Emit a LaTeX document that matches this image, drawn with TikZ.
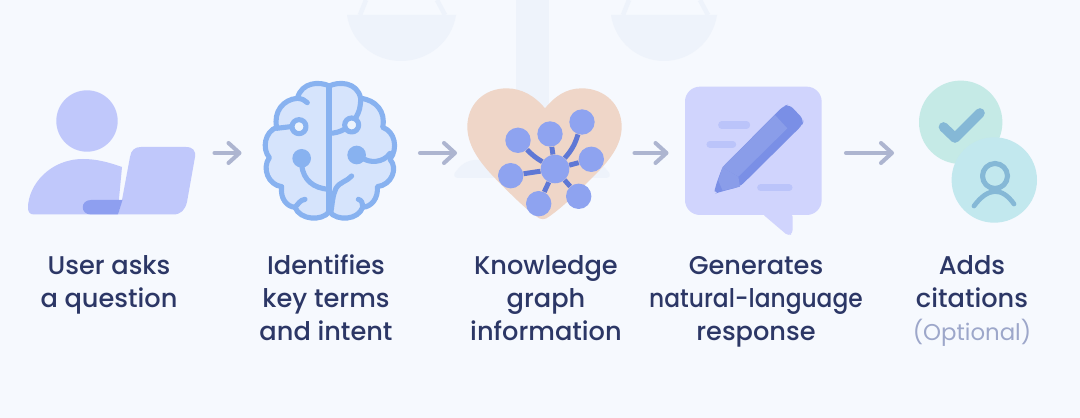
\documentclass[tikz,border=0pt]{standalone}
\usepackage{xcolor}
\usepackage{graphicx}
\usepackage{fontspec}
\setmainfont{Poppins Medium}
\newfontfamily\optfont{Poppins}
\usetikzlibrary{arrows.meta}
\definecolor{flowbg}{HTML}{F6F9FE}
\definecolor{flowink}{HTML}{2C3766}
\definecolor{flowmute}{HTML}{9DA7CA}
\definecolor{flowarrow}{HTML}{ADB5D0}
\definecolor{scalegray}{HTML}{EEF3FB}
\definecolor{userfill}{HTML}{C0C8FB}
\definecolor{userdark}{HTML}{8E9FF0}
\definecolor{brainline}{HTML}{88B2F0}
\definecolor{brainfill}{HTML}{D6E4FC}
\definecolor{heartfill}{HTML}{EFD6C8}
\definecolor{graphnode}{HTML}{8EA3F0}
\definecolor{graphedge}{HTML}{5F78D5}
\definecolor{bubblefill}{HTML}{D0D4FD}
\definecolor{bubbleline}{HTML}{BBC4FA}
\definecolor{pencildark}{HTML}{7A8FE6}
\definecolor{pencillight}{HTML}{8A9DE9}
\definecolor{tealfill}{HTML}{C5EAE6}
\definecolor{cyanfill}{HTML}{C2E8EE}
\definecolor{citeline}{HTML}{85B8D6}

\begin{document}
\begin{tikzpicture}[
  x=0.02cm, y=-0.02cm,
  steplabel/.style={align=center, text=flowink, font=\fontsize{14.6}{18.7}\selectfont},
  iconslot/.style={minimum height=1cm, inner sep=0pt, outer sep=0pt},
  flow/.style={draw=flowarrow, line width=2.3pt, line cap=round,
    -{Straight Barb[length=2.2mm,width=4mm,round]}},
  brainstroke/.style={draw=brainline, line width=2.9pt, line cap=round, line join=round},
  gnode/.style={circle, fill=graphnode, inner sep=0pt, minimum size=0.508cm},
  gedge/.style={draw=graphedge, line width=2.8pt},
  citestroke/.style={draw=citeline, line cap=round, line join=round},
]

\useasboundingbox (0,0) rectangle (1080,418);
\fill[flowbg] (0,0) rectangle (1080,418);

% ===== faint scales behind the row =====
\fill[scalegray] (516,0) rectangle (549,175);
\fill[scalegray, rounded corners=5pt] (450,178) -- (466,160) -- (598,160) -- (614,178) -- cycle;
\fill[scalegray] (347,15) -- (456,15) .. controls (452,42) and (428,61) .. (401,61)
  .. controls (374,61) and (351,42) .. (347,15) -- cycle;
\fill[scalegray] (611,15) -- (717,15) .. controls (713,42) and (690,61) .. (664,61)
  .. controls (638,61) and (615,42) .. (611,15) -- cycle;
\draw[scalegray, line width=2.6pt] (360,15) -- (366,0) (445,15) -- (437,0);
\draw[scalegray, line width=2.6pt] (623,15) -- (629,0) (708,15) -- (700,0);

% ===== slots that carry the arrows =====
\node[iconslot, minimum width=4.1cm] (user) at (112,153) {};
\node[iconslot, minimum width=3.57cm] (brain) at (330.75,153) {};
\node[iconslot, minimum width=3.55cm] (heart) at (545.75,153) {};
\node[iconslot, minimum width=3.55cm] (bubble) at (757.25,153) {};
\node[iconslot, minimum width=3.36cm] (cite) at (978,153) {};

% ===== user with laptop =====
\fill[userfill] (87,121) circle (30.7);
\fill[userfill] (122,167) .. controls (108,162) and (96,159) .. (83,159)
  .. controls (50,159) and (28,185) .. (28,208)
  .. controls (28,212) and (30,214.5) .. (34,214.5) -- (117.5,214.5) -- cycle;
\fill[userfill] (122,200) -- (130,157) .. controls (131,150) and (135,147) .. (141,147)
  -- (186,147) .. controls (193,147) and (196,151) .. (195,157)
  -- (187,202) .. controls (185,210) and (181,214.5) .. (173,214.5) -- (118,214.5) -- cycle;
\fill[userdark] (122.5,200) -- (118,214.5) -- (91,214.5)
  .. controls (80,214.5) and (80,200) .. (91,200) -- cycle;

% ===== brain =====
\begin{scope}[shift={(250,70)}, scale=1/3]
\filldraw[brainstroke, fill=brainfill] (238,48) .. controls (210,34) and (155,35) .. (142,85)
  .. controls (100,88) and (70,125) .. (80,172)
  .. controls (45,185) and (35,235) .. (58,263)
  .. controls (35,295) and (55,345) .. (95,350)
  .. controls (90,385) and (110,410) .. (135,412)
  .. controls (150,450) and (215,455) .. (238,425)
  .. controls (262,455) and (325,450) .. (338,412)
  .. controls (365,410) and (385,385) .. (382,350)
  .. controls (425,345) and (445,295) .. (420,268)
  .. controls (445,235) and (435,185) .. (398,172)
  .. controls (408,125) and (378,90) .. (332,85)
  .. controls (322,35) and (265,34) .. (238,48) -- cycle;
\draw[brainstroke, line width=3.4pt] (237,48) -- (237,425);
\draw[brainstroke] (142,85) .. controls (155,86) and (165,90) .. (172,98);
\draw[brainstroke] (80,175) -- (122,170);
\draw[brainstroke, fill=flowbg!70!brainfill] (147,170) circle (21);
\draw[brainstroke] (155,285) .. controls (160,330) and (190,355) .. (237,358);
\fill[brainline] (155,265) circle (28);
\draw[brainstroke] (135,412) .. controls (145,402) and (150,390) .. (165,388);
\draw[brainstroke] (237,190) .. controls (255,190) and (270,185) .. (283,178);
\draw[brainstroke] (318,142) .. controls (328,125) and (332,110) .. (332,85);
\draw[brainstroke, fill=flowbg!70!brainfill] (305,165) circle (21);
\draw[brainstroke] (335,262) .. controls (355,280) and (400,280) .. (420,250);
\fill[brainline] (320,255) circle (28);
\draw[brainstroke] (305,318) .. controls (290,335) and (270,335) .. (258,355)
  .. controls (248,375) and (247,400) .. (243,425);
\draw[brainstroke] (325,388) .. controls (335,390) and (338,400) .. (338,412);
\end{scope}

% ===== heart with knowledge graph =====
\begin{scope}[shift={(450,70)}, scale=1/3]
\fill[heartfill] (285,115) .. controls (255,78) and (215,55) .. (170,55)
  .. controls (100,55) and (52,105) .. (52,170)
  .. controls (52,235) and (100,290) .. (150,340)
  .. controls (190,380) and (225,415) .. (260,440)
  .. controls (272,450) and (285,450) .. (297,440)
  .. controls (340,410) and (385,365) .. (430,320)
  .. controls (480,270) and (515,225) .. (515,170)
  .. controls (515,105) and (465,55) .. (395,55)
  .. controls (350,55) and (315,78) .. (285,115) -- cycle;
\end{scope}
\node[gnode, minimum size=0.572cm] (hub) at (555,169) {};
\node[gnode] (ga) at (518,140.3) {};
\node[gnode] (gb) at (550,134) {};
\node[gnode] (gc) at (582,122) {};
\node[gnode] (gd) at (591.3,159.3) {};
\node[gnode] (ge) at (510.7,175.7) {};
\node[gnode] (gf) at (538.7,203.7) {};
\node[gnode] (gg) at (578.7,196.3) {};
\draw[gedge] (hub) to[bend left=8] (ga);
\draw[gedge] (hub) -- (gb);
\draw[gedge] (hub) to[bend right=12] (gc);
\draw[gedge] (hub) -- (gd);
\draw[gedge] (hub) -- (ge);
\draw[gedge] (hub) -- (gf);
\draw[gedge] (hub) -- (gg);

% ===== speech bubble with pencil =====
\begin{scope}[shift={(640,70)}, scale=1/3]
\fill[bubblefill, rounded corners=8.5pt] (135,50) rectangle (545,435);
\fill[bubblefill, rounded corners=2pt] (365,430) -- (445,498) -- (458,490) -- (458,430) -- cycle;
\draw[bubbleline, line width=4pt, line cap=round] (245,165) -- (320,165) (210,223) -- (278,223) (362,353) -- (447,353);
\fill[pencildark, rounded corners=3pt] (247,292) -- (430,108) -- (448,103) -- (492,150) -- (487,165)
  -- (300,350) -- (240,366) -- (222,372) -- (226,350) -- cycle;
\fill[pencillight] (247,292) -- (405,135) -- (442,175) -- (295,320) -- cycle;
\fill[pencillight] (247,292) -- (295,320) -- (300,350) -- (248,362) -- (235,332) -- cycle;
\end{scope}

% ===== citation circles =====
\fill[tealfill] (960.7,122.3) circle (41.7);
\fill[cyanfill] (994.3,180) circle (42.7);
\draw[citestroke, line width=5.5pt] (943.5,127) -- (955,138) -- (980,113);
\draw[citestroke, line width=2.9pt] (995,176) circle (12.5);
\draw[citestroke, line width=2.7pt] (974,206) .. controls (988,187) and (1002,187) .. (1014,204);

% ===== arrows =====
\draw[flow] (user.east) -- (brain.west);
\draw[flow] (brain.east) -- (heart.west);
\draw[flow] (heart.east) -- (bubble.west);
\draw[flow] (bubble.east) -- (cite.west);

% ===== labels =====
\node[steplabel] (asks) at (109,284.5) {User asks\\a question};
\node[steplabel] (terms) at (326,298) {Identifies\\key terms\\and intent};
\node[steplabel] (graph) at (546,298) {Knowledge\\graph\\information};
\node[steplabel] (response) at (756,302) {Generates\\\scalebox{0.91}[1]{natural-language}\\response};
\node[steplabel] (citations) at (972,301) {Adds\\citations\\{\optfont\fontsize{13}{18.7}\selectfont\textcolor{flowmute}{(Optional)}}};

\end{tikzpicture}
\end{document}
